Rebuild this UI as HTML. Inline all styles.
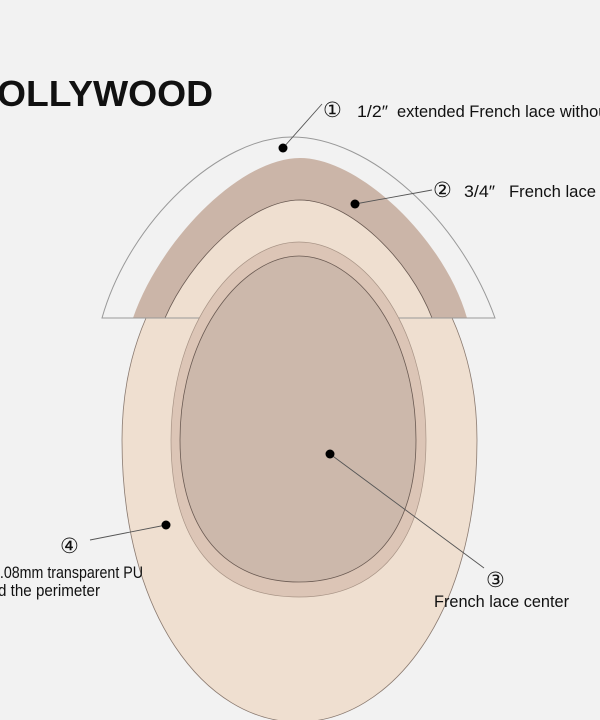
<!DOCTYPE html>
<html><head><meta charset="utf-8"><style>
html,body{margin:0;padding:0;background:#f2f2f2;}
svg{display:block;}
text{font-family:"Liberation Sans",sans-serif;fill:#111;}
</style></head><body>
<svg width="600" height="720" viewBox="0 0 600 720" xmlns="http://www.w3.org/2000/svg">
<rect width="600" height="720" fill="#f2f2f2"/>
<path d="M298,200 C380,200 477,290 477,440 C477,615 390,722 298,722 C205,722 122,615 122,440 C122,290 215,200 298,200 Z" fill="#efdfd0" stroke="#8a7a70" stroke-width="0.8"/>
<path d="M133,318 C160,240 240,158 300,158 C360,158 445,240 467,318 L432,318 C410,260 350,200 300,200 C250,200 190,260 165,318 Z" fill="#cbb5a8"/>
<path d="M432,318 C410,260 350,200 300,200 C250,200 190,260 165,318" fill="none" stroke="#6a5a52" stroke-width="0.8"/>
<path d="M102,318 C130,220 220,137 292,137 C370,137 460,220 495,318 Z" fill="none" stroke="#999" stroke-width="1"/>
<path d="M299,242 C360,242 426,320 426,440 C426,540 380,597 299,597 C215,597 171,540 171,440 C171,320 240,242 299,242 Z" fill="#dcc5b6" stroke="#a89486" stroke-width="0.7"/>
<path d="M299,256 C355,256 416,330 416,440 C416,530 372,582 299,582 C225,582 180,530 180,440 C180,330 245,256 299,256 Z" fill="#ccb8ab" stroke="#6a5a52" stroke-width="0.8"/>
<text x="-3" y="106" font-weight="bold" font-size="36" textLength="216" lengthAdjust="spacingAndGlyphs">OLLYWOOD</text>
<g stroke="#555" stroke-width="0.9">
<line x1="283" y1="148" x2="322" y2="104"/>
<line x1="355" y1="204" x2="432" y2="190"/>
<line x1="330" y1="454" x2="484" y2="568"/>
<line x1="166" y1="525" x2="90" y2="540"/>
</g>
<g fill="#000">
<circle cx="283" cy="148" r="4.5"/>
<circle cx="355" cy="204" r="4.5"/>
<circle cx="330" cy="454" r="4.5"/>
<circle cx="166" cy="525" r="4.5"/>
</g>
<text x="323" y="117" font-size="21">①</text>
<text x="357" y="117" font-size="17" textLength="31" lengthAdjust="spacingAndGlyphs">1/2″</text>
<text x="397" y="117" font-size="17" textLength="215" lengthAdjust="spacingAndGlyphs">extended French lace without</text>
<text x="433" y="197" font-size="21">②</text>
<text x="464" y="197" font-size="17" textLength="31" lengthAdjust="spacingAndGlyphs">3/4″</text>
<text x="509" y="197" font-size="17" textLength="125" lengthAdjust="spacingAndGlyphs">French lace front</text>
<text x="486" y="587" font-size="21">③</text>
<text x="434" y="607" font-size="17" textLength="135" lengthAdjust="spacingAndGlyphs">French lace center</text>
<text x="60" y="553" font-size="21">④</text>
<text x="-8" y="578" font-size="17" textLength="151" lengthAdjust="spacingAndGlyphs">0.08mm transparent PU</text>
<text x="-2" y="596" font-size="17" textLength="102" lengthAdjust="spacingAndGlyphs">d the perimeter</text>
</svg>
</body></html>
